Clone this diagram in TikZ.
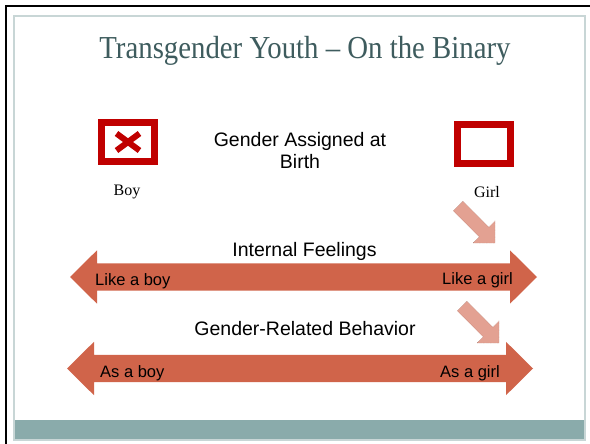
\documentclass[tikz,border=0pt]{standalone}
\usepackage{fontspec}
\setmainfont{Liberation Serif}
\setsansfont{Liberation Sans}
\newfontfamily\titlefont[FakeStretch=0.9]{Liberation Serif}
\definecolor{slidetitle}{RGB}{62, 92, 94}
\definecolor{slideframe}{RGB}{200, 214, 214}
\definecolor{slideband}{RGB}{138, 171, 171}
\definecolor{markred}{RGB}{192, 0, 0}
\definecolor{spectrum}{RGB}{208, 100, 74}
\definecolor{shiftpink}{RGB}{227, 161, 146}
\usetikzlibrary{calc, positioning}

\tikzset{
  headline/.style={font=\sffamily\fontsize{19.5}{23}\selectfont, inner sep=0pt},
  endlabel/.style={font=\sffamily\fontsize{16.5}{19}\selectfont, inner sep=0pt},
  sexlabel/.style={font=\fontsize{16}{19}\selectfont, inner sep=0pt},
  sexbox/.style={draw=markred, line width=6.7pt, minimum width=53.3pt, minimum height=39.3pt, inner sep=0pt},
  bigarrow/.style={fill=spectrum},
  pointer/.style={fill=shiftpink, draw=shiftpink!75!black, line width=0.4pt, densely dotted}
}

\begin{document}
\begin{tikzpicture}[x=1pt, y=-1pt]
  \useasboundingbox (0,0) rectangle (590,444);
  \fill[white] (0,0) rectangle (590,444);

  % slide frame
  \draw[black, line width=2.5pt] (6,444) -- (6,6) -- (590,6);
  \fill[slideband] (14,420) rectangle (585,439);
  \draw[slideframe, line width=1.5pt] (14,16) rectangle (585,440);

  \node[font=\titlefont\fontsize{32}{38}\selectfont, text=slidetitle, anchor=base, inner sep=0pt] (title) at (305,58.6) {Transgender Youth – On the Binary};

  % assigned at birth
  \node[sexbox] (boybox) at (128,142) {};
  \node[sexbox] (girlbox) at (484,144) {};
  \draw[markred, line width=6pt] ($(boybox.center)+(-11.5,-8.5)$) -- ($(boybox.center)+(11.5,8.5)$);
  \draw[markred, line width=6pt] ($(boybox.center)+(-11.5,8.5)$) -- ($(boybox.center)+(11.5,-8.5)$);
  \node[sexlabel, anchor=base] (boy) at (127,196) {Boy};
  \node[sexlabel, anchor=base] (girl) at (487,197) {Girl};
  \node[headline, align=center, font=\sffamily\fontsize{19.5}{22}\selectfont] (assigned) at (300,151) {Gender Assigned at\\Birth};

  % internal feelings
  \coordinate (feelL) at (70,277);
  \coordinate (feelR) at (537,277);
  \fill[bigarrow] (feelL) -- ++(27,-26.7) -- ++(0,13) -- ($(feelR)+(-27,-13.7)$) -- ++(0,-13) -- (feelR)
    -- ++(-27,26.7) -- ++(0,-13) -- ($(feelL)+(27,13.7)$) -- ++(0,13) -- cycle;
  \node[headline, anchor=base] (feelings) at (304.5,256) {Internal Feelings};
  \node[endlabel, anchor=base west] (likeboy) at (95,285) {Like a boy};
  \node[endlabel, anchor=base east] (likegirl) at (513,284.5) {Like a girl};

  % behavior
  \coordinate (actL) at (67,368.5);
  \coordinate (actR) at (533,368.5);
  \fill[bigarrow] (actL) -- ++(27,-26.7) -- ++(0,13) -- ($(actR)+(-27,-13.7)$) -- ++(0,-13) -- (actR)
    -- ++(-27,26.7) -- ++(0,-13) -- ($(actL)+(27,13.7)$) -- ++(0,13) -- cycle;
  \node[headline, anchor=base] (behavior) at (305,335.5) {Gender-Related Behavior};
  \node[endlabel, anchor=base west] (asboy) at (100,377) {As a boy};
  \node[endlabel, anchor=base east] (asgirl) at (500,377) {As a girl};

  % shift towards girl
  \coordinate (tipA) at (495,243);
  \coordinate (tipB) at (499,343);
  \filldraw[pointer, shift={(tipA)}] (-41.8,-32.2) -- (-32.2,-41.8) -- (-6.2,-15.8) -- (0,-22) -- (0,0) -- (-22,0) -- (-15.8,-6.2) -- cycle;
  \filldraw[pointer, shift={(tipB)}] (-41.8,-32.2) -- (-32.2,-41.8) -- (-6.2,-15.8) -- (0,-22) -- (0,0) -- (-22,0) -- (-15.8,-6.2) -- cycle;
\end{tikzpicture}
\end{document}
